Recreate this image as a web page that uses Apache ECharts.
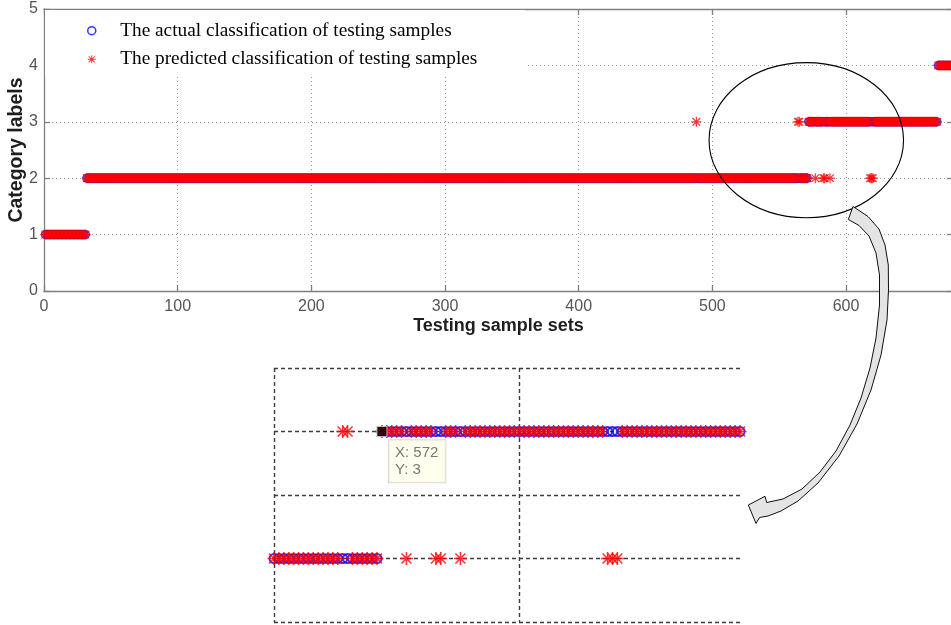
<!DOCTYPE html>
<html>
<head>
<meta charset="utf-8">
<script src="https://cdn.jsdelivr.net/npm/echarts@6/dist/echarts.min.js"></script>
<style>
  html, body { margin: 0; padding: 0; background: #ffffff; }
  #chart { width: 951px; height: 625px; }
</style>
</head>
<body>
<div id="chart"></div>
<script>
// ---- data -------------------------------------------------------------
// Actual class of each testing sample, as runs: [first sample, last sample, class]
const actualRuns = [
  [1, 31, 1],
  [32, 571, 2],
  [572, 668, 3],
  [669, 680, 4]
];
// Samples whose predicted class differs from the actual one: [sample, predicted class]
const misclassified = [
  [488, 3], [564, 3], [565, 3],
  [577, 2], [583, 2], [584, 2], [588, 2],
  [618, 2], [619, 2], [620, 2]
];
// Sample picked out by the data tip in the magnified view
const dataTipSample = 572;

// Axis ranges / ticks
const mainX = { min: 0, max: 680, interval: 100 };
const mainY = { min: 0, max: 5, interval: 1 };
const zoomX = { min: 550, max: 645.4, interval: 50 };
const zoomY = { min: 1.5, max: 3.5, interval: 0.5 };
// Region circled on the main plot (data units)
const circledX = [497.5, 643];
const circledY = [1.3, 4.05];

const nameActual = 'The actual classification of testing samples';
const namePredicted = 'The predicted classification of testing samples';

// ---- build point lists ------------------------------------------------
const actual = [];
actualRuns.forEach(([a, b, c]) => { for (let i = a; i <= b; i++) actual.push([i, c]); });
const wrong = new Map(misclassified);
const predicted = actual.map(([i, c]) => [i, wrong.has(i) ? wrong.get(i) : c]);
const inZoom = d => d[0] >= zoomX.min && d[0] <= zoomX.max;
const dataTip = actual.find(d => d[0] === dataTipSample);

// asterisk marker: a plus and a cross, filled as one shape
const asterisk = 'path://M8.8,0L11.2,0L11.2,8.8L20,8.8L20,11.2L11.2,11.2L11.2,20L8.8,20L8.8,11.2L0,11.2L0,8.8L8.8,8.8Z' +
  'M3.2,1.5L18.5,16.8L16.8,18.5L1.5,3.2Z M16.8,1.5L18.5,3.2L3.2,18.5L1.5,16.8Z';

const BLUE = '#0000ff', RED = '#ff0000';
const axisGray = '#7f7f7f';
const sans = 'Liberation Sans';

const chart = echarts.init(document.getElementById('chart'), null, { renderer: 'canvas' });

function frameAxis(extra) {
  return Object.assign({
    type: 'value',
    axisLine: { show: true, onZero: false, lineStyle: { color: axisGray, width: 1.3 } },
    axisTick: { show: true, inside: true, length: 6, lineStyle: { color: axisGray, width: 1.3 } },
    axisLabel: { show: false },
    splitLine: { show: false }
  }, extra);
}

const zoomSplit = { show: true, lineStyle: { color: '#3c3c3c', width: 1.4, type: [4, 3] } };

const option = {
  backgroundColor: '#ffffff',
  animation: false,
  grid: [
    { left: 44, top: 9, width: 909, height: 282, outerBoundsMode: 'none', containLabel: false },
    { left: 274, top: 368, width: 468, height: 254, outerBoundsMode: 'none', containLabel: false }
  ],
  legend: {
    orient: 'vertical',
    left: 87, top: 20.7,
    padding: 0,
    itemWidth: 47, itemHeight: 8, itemGap: 8.6,
    selectedMode: false,
    textStyle: { fontFamily: 'Liberation Serif', fontSize: 19.3, lineHeight: 20, color: '#000000' },
    data: [
      { name: nameActual, icon: 'circle',
        itemStyle: { color: 'rgba(0,0,0,0)', borderColor: BLUE, borderWidth: 1.5 } },
      { name: namePredicted, icon: asterisk, itemStyle: { color: RED, borderWidth: 0 } }
    ]
  },
  xAxis: [
    frameAxis({
      gridIndex: 0, position: 'bottom', min: mainX.min, max: mainX.max, interval: mainX.interval,
      axisLabel: { show: true, color: '#555555', fontFamily: sans, fontSize: 16, margin: 8, showMaxLabel: false },
      splitLine: { show: true, showMinLine: false, showMaxLine: false,
        lineStyle: { color: '#9a9a9a', width: 1, type: [1, 3] } },
      name: 'Testing sample sets', nameLocation: 'middle', nameGap: 26,
      nameTextStyle: { fontFamily: sans, fontSize: 18, fontWeight: 'bold', color: '#1e1e1e' }
    }),
    frameAxis({ gridIndex: 0, position: 'top', min: mainX.min, max: mainX.max, interval: mainX.interval }),
    {
      type: 'value', gridIndex: 1, min: zoomX.min, max: zoomX.max, interval: zoomX.interval,
      axisLine: { show: false }, axisTick: { show: false }, axisLabel: { show: false },
      splitLine: Object.assign({ showMinLine: true, showMaxLine: false }, zoomSplit)
    }
  ],
  yAxis: [
    frameAxis({
      gridIndex: 0, position: 'left', min: mainY.min, max: mainY.max, interval: mainY.interval,
      axisLabel: { show: true, color: '#555555', fontFamily: sans, fontSize: 16, margin: 6 },
      splitLine: { show: true, showMinLine: false, showMaxLine: false,
        lineStyle: { color: '#9a9a9a', width: 1, type: [1, 3] } },
      name: 'Category labels', nameLocation: 'middle', nameGap: 17, nameRotate: 90,
      nameMoveOverlap: false,
      nameTextStyle: { fontFamily: sans, fontSize: 19.5, fontWeight: 'bold', color: '#1e1e1e' }
    }),
    frameAxis({ gridIndex: 0, position: 'right', min: mainY.min, max: mainY.max, interval: mainY.interval }),
    {
      type: 'value', gridIndex: 1, min: zoomY.min, max: zoomY.max, interval: zoomY.interval,
      axisLine: { show: false }, axisTick: { show: false }, axisLabel: { show: false },
      splitLine: Object.assign({ showMinLine: true, showMaxLine: true }, zoomSplit)
    }
  ],
  series: [
    // main plot
    { name: nameActual, type: 'scatter', xAxisIndex: 0, yAxisIndex: 0, z: 2, silent: true,
      symbol: 'circle', symbolSize: 8,
      itemStyle: { color: 'rgba(0,0,0,0)', borderColor: BLUE, borderWidth: 1.2 },
      data: actual },
    { name: namePredicted, type: 'scatter', xAxisIndex: 0, yAxisIndex: 0, z: 3, silent: true,
      symbol: asterisk, symbolSize: 10,
      itemStyle: { color: RED },
      data: predicted },
    // magnified view
    { name: nameActual, type: 'scatter', xAxisIndex: 2, yAxisIndex: 2, z: 2, silent: true,
      symbol: 'circle', symbolSize: 9,
      itemStyle: { color: 'rgba(0,0,0,0)', borderColor: BLUE, borderWidth: 2 },
      data: actual.filter(inZoom) },
    { name: namePredicted, type: 'scatter', xAxisIndex: 2, yAxisIndex: 2, z: 3, silent: true,
      symbol: asterisk, symbolSize: 13,
      itemStyle: { color: RED },
      data: predicted.filter(inZoom) },
    // data tip
    { type: 'scatter', xAxisIndex: 2, yAxisIndex: 2, z: 5, silent: true,
      symbol: 'rect', symbolSize: 10,
      itemStyle: { color: '#000000', borderColor: '#d8d8c0', borderWidth: 1 },
      data: [dataTip],
      label: {
        show: true, position: [12.6, 14.3], align: 'left', verticalAlign: 'top',
        formatter: p => 'X: ' + p.value[0] + '\nY: ' + p.value[1],
        backgroundColor: '#ffffe8', borderColor: '#d0d0c8', borderWidth: 1,
        padding: [4, 7, 4, 6],
        fontFamily: sans, fontSize: 15, lineHeight: 17, color: '#555555'
      } }
  ]
};

chart.setOption(option);

// ---- annotations: legend backdrop, ellipse round the misclassified region, curved arrow ----
const p0 = chart.convertToPixel({ gridIndex: 0 }, [circledX[0], circledY[0]]);
const p1 = chart.convertToPixel({ gridIndex: 0 }, [circledX[1], circledY[1]]);
const ell = {
  cx: (p0[0] + p1[0]) / 2, cy: (p0[1] + p1[1]) / 2,
  rx: Math.abs(p1[0] - p0[0]) / 2, ry: Math.abs(p1[1] - p0[1]) / 2
};

// outline of the block arrow, from its tail on the ellipse to its head beside the magnified view
const arrowOutline = [
  [853, 206.5], [868, 216.5], [879, 229], [885, 245], [888.3, 265], [888.5, 290],
  [887, 320], [881, 355], [871, 390], [857, 424], [839, 456], [818, 483], [798, 501],
  [781, 511], [768, 516], [759.5, 517.5],
  [756, 523.5], [748.3, 505], [765, 496.3],
  [766.7, 502.5], [783, 499], [802, 489], [820, 472], [836, 451], [850, 425],
  [861, 398], [870, 368], [876, 338], [879.5, 305], [879.5, 275], [876, 253],
  [869, 236], [859, 225.5], [848.3, 219.5]
];

chart.setOption({
  graphic: [
    // white panel behind the legend, hiding the grid lines there
    { type: 'rect', z: 1, silent: true,
      shape: { x: 45, y: 10, width: 480, height: 67 },
      style: { fill: '#ffffff' } },
    { type: 'ellipse', z: 50, silent: true,
      shape: ell,
      style: { fill: null, stroke: '#000000', lineWidth: 1.1 } },
    { type: 'polygon', z: 51, silent: true,
      shape: { points: arrowOutline },
      style: { fill: '#e4e4e4', stroke: '#111111', lineWidth: 1 } }
  ]
});
</script>
</body>
</html>
